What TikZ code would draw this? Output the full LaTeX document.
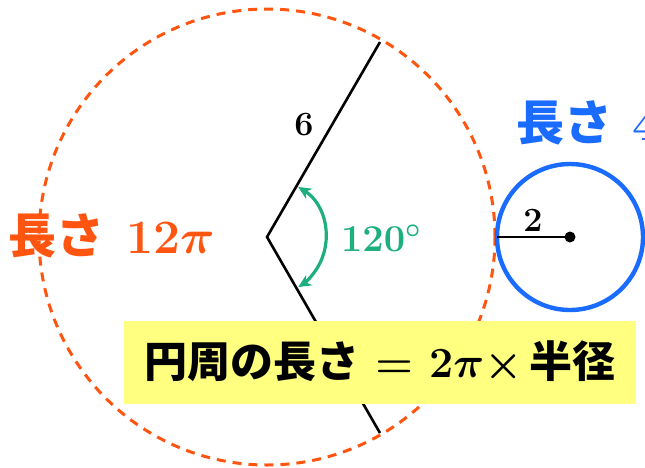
\RequirePackage{fix-cm}
\documentclass[tikz,border=0pt]{standalone}
\usepackage{fontspec}
\newfontfamily\jp{Noto Sans CJK JP}
\usepackage{tikz}
\usetikzlibrary{positioning,arrows.meta,calc}
\definecolor{orng}{HTML}{FF5510}
\definecolor{blue}{HTML}{1A6BFF}
\definecolor{grn}{HTML}{1DAF7E}
\definecolor{ylw}{HTML}{FFFF80}

\begin{document}
\begin{tikzpicture}[
    x=1pt, y=-1pt,
    big/.style={font=\fontsize{48}{48}\selectfont\bfseries\boldmath, inner sep=0pt},
    num/.style={font=\fontsize{34}{34}\selectfont\boldmath, inner sep=0pt},
    side/.style={line width=2.6pt, black},
    formula/.style={fill=ylw, minimum width=512pt, minimum height=83pt, inner sep=0pt, font=\fontsize{43}{43}\selectfont\bfseries\boldmath},
  ]
    \useasboundingbox (0,0) rectangle (645,467);
    \fill[white] (0,0) rectangle (645,467);
    % big sector
    \coordinate (O) at (267,237);
    \coordinate (A) at (380,42);
    \coordinate (B) at (380,433);
    \draw[orng, line width=3pt, dash pattern=on 9pt off 7pt] (O) circle[radius=228pt];
    \draw[side, line join=miter] (A) -- (O) -- (B);
    \draw[grn, line width=3.2pt, {Stealth[length=13pt,width=12pt]}-{Stealth[length=13pt,width=12pt]}]
      (O) ++(58:59pt) arc[start angle=58, end angle=-58, radius=59pt];
    \node[num, grn, font=\fontsize{38}{38}\selectfont\boldmath] (ang) at (381,238) {$120^\circ$};
    \node[num] (six) at (304,125) {$6$};
    \node[big, orng, anchor=west] (len1) at (8,236) {{\jp 長さ}\hspace{22pt}$12\pi$};
    % small circle
    \coordinate (C) at (570,237);
    \coordinate (P) at (497,237);
    \draw[blue, line width=4.4pt] (C) circle[radius=73pt];
    \draw[line width=2.6pt] (P) -- (C);
    \fill (C) circle[radius=5.5pt];
    \node[num] (two) at (533,221) {$2$};
    \node[big, blue, anchor=west] (len2) at (516,123) {{\jp 長さ}\hspace{20pt}$4\pi$};
    % formula
    \node[formula] (box) at (380,362) {{\jp 円周の長さ}\ $=$\ $2\pi\times$\,{\jp 半径}};
  \end{tikzpicture}
\end{document}
